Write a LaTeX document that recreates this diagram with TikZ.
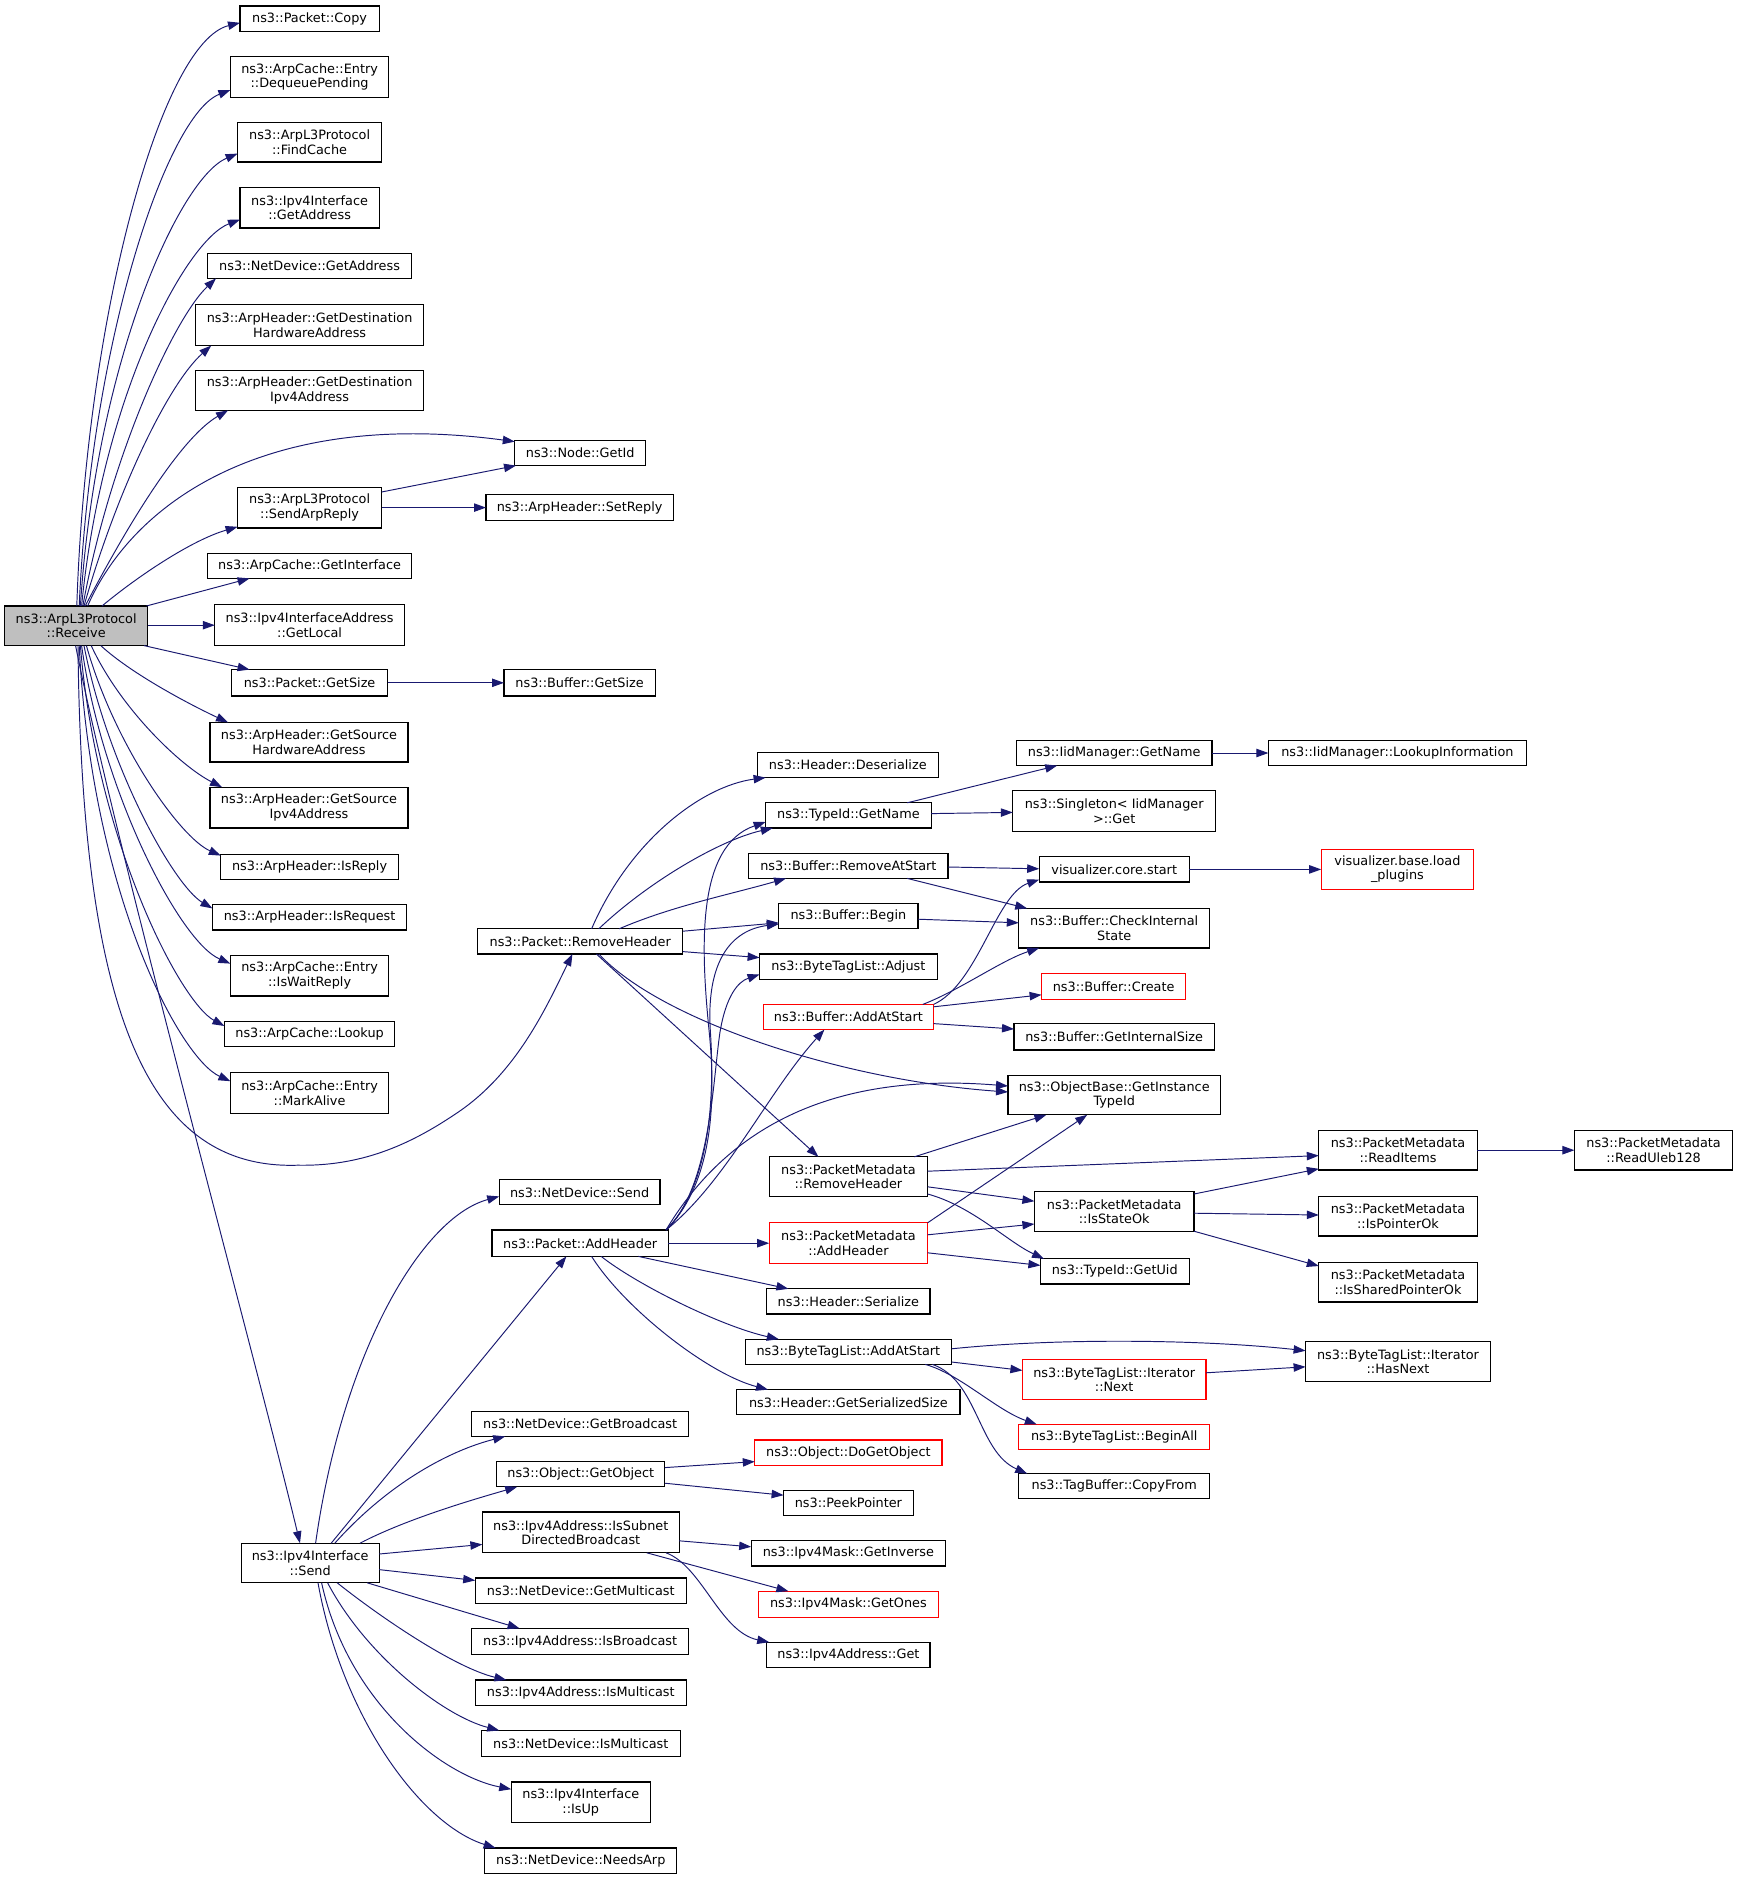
\documentclass[tikz,border=0pt]{standalone}
\usepackage{fontspec}
\newfontfamily\dvs{DejaVu Sans}
\usetikzlibrary{arrows.meta}
\definecolor{edgecol}{HTML}{191970}
\definecolor{rootfill}{HTML}{BFBFBF}
\begin{document}
\begin{tikzpicture}[x=1pt,y=-1pt,
  box/.style={draw=black,line width=0.9pt,fill=white,inner sep=0pt,outer sep=0pt,align=center,font=\dvs\fontsize{10.7}{12}\selectfont},
  nb/.style 2 args={box,minimum width=#1pt,minimum height=#2pt},
  rb/.style 2 args={nb={#1}{#2},draw=red},
  ed/.style={draw=edgecol,line width=0.8pt,-{Triangle[length=10pt,width=7pt]}}]
\fill[white] (0,0) rectangle (1449.2,1567.5);
\useasboundingbox (0,0) rectangle (1449.2,1567.5);
% nodes
\node[nb={119}{33},fill=rootfill] (recv) at (63.5,521.5) {ns3::ArpL3Protocol\\::Receive};
\node[nb={116}{21}] (copy) at (258,15.5) {ns3::Packet::Copy};
\node[nb={132}{34}] (deq) at (258,64) {ns3::ArpCache::Entry\\::DequeuePending};
\node[nb={120}{33}] (findc) at (258,118.5) {ns3::ArpL3Protocol\\::FindCache};
\node[nb={116}{34}] (ifaddr) at (258,173) {ns3::Ipv4Interface\\::GetAddress};
\node[nb={170}{21}] (ndaddr) at (258,221.5) {ns3::NetDevice::GetAddress};
\node[nb={190}{34}] (gdha) at (258,271) {ns3::ArpHeader::GetDestination\\HardwareAddress};
\node[nb={190}{33}] (gdia) at (258,325.5) {ns3::ArpHeader::GetDestination\\Ipv4Address};
\node[nb={109}{21}] (getid) at (483.5,377.5) {ns3::Node::GetId};
\node[nb={120}{34}] (sendarp) at (258,423) {ns3::ArpL3Protocol\\::SendArpReply};
\node[nb={156}{22}] (setreply) at (483,423) {ns3::ArpHeader::SetReply};
\node[nb={170}{21}] (getif) at (258,471.5) {ns3::ArpCache::GetInterface};
\node[nb={158}{34}] (getlocal) at (258,521) {ns3::Ipv4InterfaceAddress\\::GetLocal};
\node[nb={130}{22}] (psize) at (258,569) {ns3::Packet::GetSize};
\node[nb={126}{22}] (bsize) at (483,569) {ns3::Buffer::GetSize};
\node[nb={165}{33}] (gsha) at (257.5,618.5) {ns3::ArpHeader::GetSource\\HardwareAddress};
\node[nb={165}{34}] (gsia) at (257.5,673) {ns3::ArpHeader::GetSource\\Ipv4Address};
\node[nb={148}{21}] (isreply) at (258,722.5) {ns3::ArpHeader::IsReply};
\node[nb={162}{21}] (isrequest) at (258,764.5) {ns3::ArpHeader::IsRequest};
\node[nb={132}{34}] (iswait) at (258,813) {ns3::ArpCache::Entry\\::IsWaitReply};
\node[nb={142}{21}] (lookup) at (258,861.5) {ns3::ArpCache::Lookup};
\node[nb={132}{34}] (markalive) at (258,911) {ns3::ArpCache::Entry\\::MarkAlive};
\node[nb={171}{21}] (removeheader) at (483.5,784.5) {ns3::Packet::RemoveHeader};
\node[nb={151}{21}] (deser) at (706.5,637.5) {ns3::Header::Deserialize};
\node[nb={138}{21}] (tgetname) at (707,679.5) {ns3::TypeId::GetName};
\node[nb={163}{21}] (iidgetname) at (928.5,627.5) {ns3::IidManager::GetName};
\node[nb={215}{21}] (lookupinfo) at (1164.5,627.5) {ns3::IidManager::LookupInformation};
\node[nb={169}{34}] (singleton) at (928.5,676) {ns3::Singleton< IidManager\\>::Get};
\node[nb={166}{21}] (removeatstart) at (707,721.5) {ns3::Buffer::RemoveAtStart};
\node[nb={125}{21}] (vcstart) at (928.5,724.5) {visualizer.core.start};
\node[rb={127}{33}] (vbload) at (1164.5,724.5) {visualizer.base.load\\\_plugins};
\node[nb={116}{21}] (begin) at (707,763.5) {ns3::Buffer::Begin};
\node[nb={159}{33}] (checkint) at (928.5,773.5) {ns3::Buffer::CheckInternal\\State};
\node[nb={148}{21}] (adjust) at (707,805.5) {ns3::ByteTagList::Adjust};
\node[rb={120}{22}] (create) at (928,822) {ns3::Buffer::Create};
\node[rb={142}{21}] (addatstart) at (707,847.5) {ns3::Buffer::AddAtStart};
\node[nb={167}{22}] (getintsize) at (928.5,864) {ns3::Buffer::GetInternalSize};
\node[nb={177}{33}] (gitid) at (928.5,912.5) {ns3::ObjectBase::GetInstance\\TypeId};
\node[nb={132}{33}] (pmremove) at (707,980.5) {ns3::PacketMetadata\\::RemoveHeader};
\node[nb={132}{33}] (readitems) at (1165,958.5) {ns3::PacketMetadata\\::ReadItems};
\node[nb={132}{33}] (readuleb) at (1378,958.5) {ns3::PacketMetadata\\::ReadUleb128};
\node[nb={133}{33}] (isstateok) at (928.5,1009.5) {ns3::PacketMetadata\\::IsStateOk};
\node[nb={132}{33}] (ispointerok) at (1165,1013.5) {ns3::PacketMetadata\\::IsPointerOk};
\node[nb={132}{33}] (issharedptr) at (1165,1068.5) {ns3::PacketMetadata\\::IsSharedPointerOk};
\node[nb={134}{21}] (ndsend) at (483,993.5) {ns3::NetDevice::Send};
\node[nb={147}{22}] (addheader) at (483.5,1036) {ns3::Packet::AddHeader};
\node[rb={132}{34}] (pmadd) at (707,1036) {ns3::PacketMetadata\\::AddHeader};
\node[nb={124}{21}] (typeiduid) at (929,1059.5) {ns3::TypeId::GetUid};
\node[nb={136}{21}] (hserialize) at (707,1084.5) {ns3::Header::Serialize};
\node[nb={172}{21}] (btladd) at (707,1126.5) {ns3::ByteTagList::AddAtStart};
\node[nb={186}{21}] (getsersize) at (707,1168.5) {ns3::Header::GetSerializedSize};
\node[nb={154}{33}] (hasnext) at (1165,1134.5) {ns3::ByteTagList::Iterator\\::HasNext};
\node[rb={153}{33}] (next) at (928.5,1149.5) {ns3::ByteTagList::Iterator\\::Next};
\node[rb={159}{21}] (beginall) at (928.5,1197.5) {ns3::ByteTagList::BeginAll};
\node[nb={159}{21}] (copyfrom) at (928.5,1238.5) {ns3::TagBuffer::CopyFrom};
\node[nb={181}{21}] (ndgetbcast) at (483.5,1186.5) {ns3::NetDevice::GetBroadcast};
\node[rb={156}{21}] (dogetobj) at (707,1210.5) {ns3::Object::DoGetObject};
\node[nb={140}{21}] (getobject) at (484,1228.5) {ns3::Object::GetObject};
\node[nb={108}{21}] (peekptr) at (707,1252.5) {ns3::PeekPointer};
\node[nb={164}{34}] (issubnet) at (484,1277) {ns3::Ipv4Address::IsSubnet\\DirectedBroadcast};
\node[nb={162}{21}] (getinverse) at (707,1294.5) {ns3::Ipv4Mask::GetInverse};
\node[nb={115}{33}] (v4send) at (258.5,1302.5) {ns3::Ipv4Interface\\::Send};
\node[nb={176}{21}] (ndgetmcast) at (484,1325.5) {ns3::NetDevice::GetMulticast};
\node[rb={150}{22}] (getones) at (707,1337) {ns3::Ipv4Mask::GetOnes};
\node[nb={181}{22}] (isbcast) at (483.5,1368) {ns3::Ipv4Address::IsBroadcast};
\node[nb={136}{21}] (v4get) at (707,1379) {ns3::Ipv4Address::Get};
\node[nb={176}{21}] (ismcast) at (484,1410.5) {ns3::Ipv4Address::IsMulticast};
\node[nb={166}{22}] (ndismcast) at (484,1453) {ns3::NetDevice::IsMulticast};
\node[nb={116}{34}] (isup) at (484,1502) {ns3::Ipv4Interface\\::IsUp};
\node[nb={160}{21}] (needsarp) at (484,1550.5) {ns3::NetDevice::NeedsArp};
% edges from Receive
\draw[ed] ([shift={(60,0)}]recv.north west) .. controls (72,260) and (135,35) .. ([shift={(0,14)}]copy.north west);
\draw[ed] ([shift={(62,0)}]recv.north west) .. controls (76,280) and (140,95) .. ([shift={(0,28)}]deq.north west);
\draw[ed] ([shift={(63,0)}]recv.north west) .. controls (80,300) and (150,148) .. ([shift={(0,26)}]findc.north west);
\draw[ed] ([shift={(64,0)}]recv.north west) .. controls (85,330) and (155,200) .. ([shift={(0,27)}]ifaddr.north west);
\draw[ed] ([shift={(65,0)}]recv.north west) .. controls (92,380) and (145,265) .. ([shift={(7,21)}]ndaddr.north west);
\draw[ed] ([shift={(66,0)}]recv.north west) .. controls (97,410) and (140,320) .. ([shift={(13,34)}]gdha.north west);
\draw[ed] ([shift={(67,0)}]recv.north west) .. controls (105,440) and (150,365) .. ([shift={(27,33)}]gdia.north west);
\draw[ed] ([shift={(69,0)}]recv.north west) .. controls (110,420) and (220,340) .. ([shift={(0,1)}]getid.north west);
\draw[ed] ([shift={(81,0)}]recv.north west) .. controls (115,480) and (160,450) .. ([shift={(0,33)}]sendarp.north west);
\draw[ed] ([shift={(118,0)}]recv.north west) -- ([shift={(35,21)}]getif.north west);
\draw[ed] ([shift={(119,16)}]recv.north west) -- ([shift={(0,17)}]getlocal.north west);
\draw[ed] ([shift={(116,33)}]recv.north west) -- ([shift={(15,0)}]psize.north west);
\draw[ed] ([shift={(80,33)}]recv.north west) .. controls (110,562) and (160,588) .. ([shift={(15,0)}]gsha.north west);
\draw[ed] ([shift={(72,33)}]recv.north west) .. controls (100,590) and (150,638) .. ([shift={(10,0)}]gsia.north west);
\draw[ed] ([shift={(68,33)}]recv.north west) .. controls (95,620) and (150,698) .. ([shift={(0,1)}]isreply.north west);
\draw[ed] ([shift={(66,33)}]recv.north west) .. controls (90,640) and (145,738) .. ([shift={(0,3)}]isrequest.north west);
\draw[ed] ([shift={(64,33)}]recv.north west) .. controls (85,660) and (150,785) .. ([shift={(0,7)}]iswait.north west);
\draw[ed] ([shift={(63,33)}]recv.north west) .. controls (80,700) and (150,835) .. ([shift={(0,4)}]lookup.north west);
\draw[ed] ([shift={(62,33)}]recv.north west) .. controls (76,745) and (150,882) .. ([shift={(0,7)}]markalive.north west);
\draw[ed] ([shift={(61,33)}]recv.north west) .. controls (68,850) and (125,975) .. (248,971) .. controls (300,972) and (340,955) .. (380,928) .. controls (430,895) and (455,840) .. ([shift={(79,21)}]removeheader.north west);
\draw[ed] ([shift={(59,33)}]recv.north west) .. controls (95,700) and (215,1140) .. ([shift={(49,0)}]v4send.north west);
% other edges
\draw[ed] ([shift={(120,4)}]sendarp.north west) -- ([shift={(1,21)}]getid.north west);
\draw[ed] ([shift={(120,17)}]sendarp.north west) -- ([shift={(0,11)}]setreply.north west);
\draw[ed] ([shift={(130,11)}]psize.north west) -- ([shift={(0,11)}]bsize.north west);
\draw[ed] ([shift={(95,0)}]removeheader.north west) .. controls (525,700) and (585,655) .. ([shift={(7,21)}]deser.north west);
\draw[ed] ([shift={(101,0)}]removeheader.north west) .. controls (540,735) and (600,700) .. ([shift={(6,21)}]tgetname.north west);
\draw[ed] ([shift={(118,0)}]removeheader.north west) .. controls (560,755) and (610,745) .. ([shift={(31,21)}]removeatstart.north west);
\draw[ed] ([shift={(171,2)}]removeheader.north west) -- ([shift={(0,16)}]begin.north west);
\draw[ed] ([shift={(171,19)}]removeheader.north west) -- ([shift={(0,3)}]adjust.north west);
\draw[ed] ([shift={(101,21)}]removeheader.north west) .. controls (550,850) and (700,900) .. ([shift={(0,14)}]gitid.north west);
\draw[ed] ([shift={(99,21)}]removeheader.north west) -- ([shift={(41,0)}]pmremove.north west);
\draw[ed] ([shift={(118,0)}]tgetname.north west) -- ([shift={(34,21)}]iidgetname.north west);
\draw[ed] ([shift={(138,9)}]tgetname.north west) -- ([shift={(0,18)}]singleton.north west);
\draw[ed] ([shift={(163,10.5)}]iidgetname.north west) -- ([shift={(0,10.5)}]lookupinfo.north west);
\draw[ed] ([shift={(166,11.5)}]removeatstart.north west) -- ([shift={(0,10)}]vcstart.north west);
\draw[ed] ([shift={(132,21)}]removeatstart.north west) -- ([shift={(7,0)}]checkint.north west);
\draw[ed] ([shift={(116,13)}]begin.north west) -- ([shift={(0,12)}]checkint.north west);
\draw[ed] ([shift={(125,10.5)}]vcstart.north west) -- ([shift={(0,16.5)}]vbload.north west);
\draw[ed] ([shift={(142,0)}]addatstart.north west) .. controls (815,820) and (830,745) .. ([shift={(0,19)}]vcstart.north west);
\draw[ed] ([shift={(133,0)}]addatstart.north west) .. controls (800,825) and (835,800) .. ([shift={(17,33)}]checkint.north west);
\draw[ed] ([shift={(142,2)}]addatstart.north west) -- ([shift={(0,18)}]create.north west);
\draw[ed] ([shift={(142,16)}]addatstart.north west) -- ([shift={(0,4.5)}]getintsize.north west);
\draw[ed] ([shift={(121,0)}]pmremove.north west) -- ([shift={(32,33)}]gitid.north west);
\draw[ed] ([shift={(132,12)}]pmremove.north west) -- ([shift={(0,21)}]readitems.north west);
\draw[ed] ([shift={(132,25)}]pmremove.north west) -- ([shift={(0,8)}]isstateok.north west);
\draw[ed] ([shift={(132,31)}]pmremove.north west) .. controls (810,1005) and (840,1035) .. ([shift={(3,0)}]typeiduid.north west);
\draw[ed] ([shift={(132,0)}]pmadd.north west) -- ([shift={(66,33)}]gitid.north west);
\draw[ed] ([shift={(132,10)}]pmadd.north west) -- ([shift={(0,27)}]isstateok.north west);
\draw[ed] ([shift={(132,25)}]pmadd.north west) -- ([shift={(0,5.5)}]typeiduid.north west);
\draw[ed] ([shift={(133,2)}]isstateok.north west) -- ([shift={(0,32)}]readitems.north west);
\draw[ed] ([shift={(133,18)}]isstateok.north west) -- ([shift={(0,15.5)}]ispointerok.north west);
\draw[ed] ([shift={(133,33)}]isstateok.north west) -- ([shift={(0,3)}]issharedptr.north west);
\draw[ed] ([shift={(132,16.5)}]readitems.north west) -- ([shift={(0,16.5)}]readuleb.north west);
\draw[ed] ([shift={(147,11)}]addheader.north west) -- ([shift={(0,17)}]pmadd.north west);
\draw[ed] ([shift={(122,22)}]addheader.north west) -- ([shift={(18,0)}]hserialize.north west);
\draw[ed] ([shift={(91,22)}]addheader.north west) .. controls (530,1070) and (600,1105) .. ([shift={(28,0)}]btladd.north west);
\draw[ed] ([shift={(83,22)}]addheader.north west) .. controls (520,1090) and (590,1145) .. ([shift={(26,0)}]getsersize.north west);
\draw[ed] ([shift={(145,0)}]addheader.north west) .. controls (590,990) and (598,930) .. (591,860) .. controls (584,790) and (580,705) .. ([shift={(0,16)}]tgetname.north west);
\draw[ed] ([shift={(145,0)}]addheader.north west) .. controls (590,990) and (596,920) .. (592,860) .. controls (588,800) and (610,775) .. ([shift={(0,17)}]begin.north west);
\draw[ed] ([shift={(145,0)}]addheader.north west) .. controls (592,990) and (594,900) .. (600,860) .. controls (605,830) and (615,818) .. ([shift={(0,17)}]adjust.north west);
\draw[ed] ([shift={(145,0)}]addheader.north west) .. controls (605,985) and (640,910) .. ([shift={(51,21)}]addatstart.north west);
\draw[ed] ([shift={(145,0)}]addheader.north west) .. controls (600,950) and (680,892) .. ([shift={(0,9)}]gitid.north west);
\draw[ed] ([shift={(172,8)}]btladd.north west) .. controls (880,1115) and (1000,1116) .. ([shift={(0,7.6)}]hasnext.north west);
\draw[ed] ([shift={(172,19)}]btladd.north west) -- ([shift={(0,9)}]next.north west);
\draw[ed] ([shift={(150,21)}]btladd.north west) .. controls (800,1145) and (830,1175) .. ([shift={(15,0)}]beginall.north west);
\draw[ed] ([shift={(156,21)}]btladd.north west) .. controls (815,1150) and (815,1210) .. ([shift={(7,0)}]copyfrom.north west);
\draw[ed] ([shift={(153,11)}]next.north west) -- ([shift={(0,21)}]hasnext.north west);
\draw[ed] ([shift={(62,0)}]v4send.north west) .. controls (285,1130) and (350,1015) .. ([shift={(0,14)}]ndsend.north west);
\draw[ed] ([shift={(75,0)}]v4send.north west) -- ([shift={(62,22)}]addheader.north west);
\draw[ed] ([shift={(78,0)}]v4send.north west) .. controls (320,1240) and (370,1210) .. ([shift={(28,21)}]ndgetbcast.north west);
\draw[ed] ([shift={(99,0)}]v4send.north west) .. controls (340,1265) and (400,1248) .. ([shift={(17,21)}]getobject.north west);
\draw[ed] ([shift={(115,9)}]v4send.north west) -- ([shift={(0,27)}]issubnet.north west);
\draw[ed] ([shift={(115,22)}]v4send.north west) -- ([shift={(0,2)}]ndgetmcast.north west);
\draw[ed] ([shift={(105,33)}]v4send.north west) -- ([shift={(40,0)}]isbcast.north west);
\draw[ed] ([shift={(80,33)}]v4send.north west) .. controls (320,1350) and (380,1390) .. ([shift={(26,0)}]ismcast.north west);
\draw[ed] ([shift={(72,33)}]v4send.north west) .. controls (305,1380) and (370,1430) .. ([shift={(15,0)}]ndismcast.north west);
\draw[ed] ([shift={(67,33)}]v4send.north west) .. controls (290,1420) and (370,1480) .. ([shift={(0,6)}]isup.north west);
\draw[ed] ([shift={(64,33)}]v4send.north west) .. controls (285,1430) and (350,1520) .. ([shift={(9,0)}]needsarp.north west);
\draw[ed] ([shift={(140,5)}]getobject.north west) -- ([shift={(0,18)}]dogetobj.north west);
\draw[ed] ([shift={(140,18)}]getobject.north west) -- ([shift={(0,4)}]peekptr.north west);
\draw[ed] ([shift={(164,24)}]issubnet.north west) -- ([shift={(0,5)}]getinverse.north west);
\draw[ed] ([shift={(137,34)}]issubnet.north west) -- ([shift={(25,0)}]getones.north west);
\draw[ed] ([shift={(153,34)}]issubnet.north west) .. controls (585,1305) and (600,1360) .. ([shift={(2,0)}]v4get.north west);
\end{tikzpicture}
\end{document}
